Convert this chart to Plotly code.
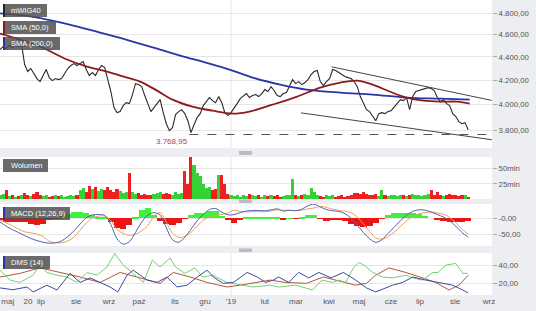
import plotly.graph_objects as go
import math

W, H = 536, 311

# ---------------- data (x = trading-day index) ----------------
price_idx = list(range(0, 305, 2))
price_close = [4464, 4490, 4473, 4500, 4482, 4500, 4490, 4509, 4333, 4273,
               4298, 4256, 4213, 4188, 4238, 4290, 4221, 4196, 4213, 4205,
               4213, 4256, 4298, 4324, 4341, 4324, 4341, 4358, 4290, 4238,
               4264, 4238, 4290, 4324, 4307, 4205, 4106, 3976, 3937, 3945,
               3992, 4016, 4008, 4081, 4171, 4163, 4146, 4073, 4008, 3945,
               3976, 4008, 4040, 3937, 3851, 3798, 3821, 3921, 3945, 3960,
               3929, 3874, 3783, 3843, 3898, 3929, 3992, 4024, 4057, 4032,
               4016, 4065, 4016, 3937, 3914, 3937, 3968, 4008, 4048, 4065,
               4089, 4057, 4073, 4081, 4065, 4089, 4122, 4106, 4146, 4114,
               4073, 4065, 4089, 4098, 4155, 4205, 4171, 4188, 4163, 4180,
               4205, 4247, 4273, 4281, 4188, 4155, 4188, 4213, 4290, 4281,
               4264, 4247, 4230, 4221, 4213, 4188, 4146, 4065, 4008, 3960,
               3945, 3914, 3874, 3929, 3937, 3929, 3945, 3952, 3984, 4008,
               4040, 4032, 4057, 3960, 4065, 4106, 4114, 4122, 4130, 4138,
               4130, 4114, 4057, 4024, 4040, 4008, 3992, 3929, 3906, 3867,
               3851, 3859, 3805]

volume_mln = [6, 8, 15, 5, 6, 4, 5, 7, 10, 6, 5, 9, 11, 7, 5, 6, 4, 5, 7, 5,
              6, 4, 5, 6, 5, 7, 14, 18, 12, 22, 16, 20, 13, 17, 15, 19, 14, 12, 16, 13,
              10, 11, 42, 12, 9, 10, 7, 8, 6, 7, 9, 10, 11, 8, 10, 9, 7, 12, 8, 10,
              46, 25, 69, 56, 42, 38, 25, 18, 20, 14, 17, 39, 39, 25, 9, 6, 5, 7, 4, 6,
              5, 8, 6, 5, 7, 4, 6, 5, 7, 5, 6, 4, 5, 7, 6, 33, 7, 5, 6, 8,
              7, 18, 12, 6, 5, 4, 6, 5, 7, 4, 5, 6, 4, 5, 7, 10, 10, 9, 11, 8,
              7, 6, 8, 5, 14, 6, 5, 7, 6, 5, 6, 7, 5, 6, 8, 6, 7, 5, 6, 8,
              14, 6, 12, 7, 5, 6, 8, 7, 6, 5, 7, 6, 4]

sma50_idx = [0, 13, 26, 43.5, 56.5, 69.5, 82.5, 91, 102, 112, 125, 138, 151,
             162, 177, 193, 208, 221, 232, 242, 253, 264, 275, 286, 297, 305]
sma50_val = [4609, 4554, 4491, 4376, 4315, 4272, 4221, 4188, 4113, 4040, 3984,
             3952, 3929, 3945, 4000, 4065, 4138, 4180, 4196, 4163, 4106, 4057,
             4032, 4024, 4024, 4008]

sma200_idx = [0, 19.5, 36, 52, 65, 84, 104, 117, 136, 151, 164, 182, 199, 221,
              242, 264, 286, 305]
sma200_val = [4797, 4768, 4721, 4665, 4618, 4545, 4464, 4411, 4341, 4281, 4222,
              4163, 4122, 4097, 4081, 4057, 4048, 4040]

min_low = 3768.95
min_low_idx = 111.7
min_low_text = "3.768,95"

trend_up_idx = [215.4, 319.3]
trend_up_val = [4313, 4034]
trend_dn_idx = [195.5, 319.3]
trend_dn_val = [3935, 3730]

macd_idx = list(range(0, 305, 4))
macd_val = [-12, -25, -36, -45, -55, -64, -71, -76, -79, -78, -72, -58, -40, -18, 2, 11,
            12, 9, -20, -65, -82, -74, -45, -12, 10, 18, 10, -30, -68, -76, -60, -35,
            -8, 12, 28, 31, 20, 11, 12, 18, 23, 25, 25, 24, 27, 30, 23, 26, 24, 29,
            40, 45, 36, 28, 24, 22, 15, 0, -22, -45, -65, -76, -68, -48, -28, -8,
            10, 22, 27, 26, 20, 12, 4, -8, -25, -45, -60]
signal_val = [-6, -14, -24, -34, -43, -46, -50, -58, -73, -77, -78, -72, -60, -38, -15, 1,
              7, 7, -8, -35, -48, -54, -50, -40, -23, 6, 18, -12, -47, -60, -58, -45,
              -25, -6, 4, 9, 12, 17, 26, 22, 21, 21, 21, 21, 23, 27, 26, 25, 25, 26,
              30, 33, 38, 35, 29, 25, 23, 18, 4, -18, -41, -62, -66, -58, -44, -26,
              -8, 6, 14, 18, 20, 17, 13, 3, -14, -34, -50]
hist_val = [-6, -11, -12, -11, -12, -18, -21, -18, -6, -1, 6, 14, 20, 20, 17, 10,
            5, 2, -12, -30, -34, -20, 5, 28, 33, 12, -8, -18, -21, -16, -2, 10,
            17, 18, 24, 22, 8, -6, -14, -4, 2, 4, 4, 3, 4, 3, -3, 1, -1, 3,
            10, 12, -2, -7, -5, -3, -8, -18, -26, -27, -24, -14, -2, 10, 16, 18,
            18, 16, 13, 8, 0, -5, -9, -11, -11, -11, -10]

dip_idx = [0, 6.5, 13, 21.5, 26, 30.5, 37, 43.5, 50, 56.5, 63, 69.5, 74.5, 80, 86.5,
           93, 99, 104, 110.5, 114, 120, 126.5, 131.5, 138, 147.5, 156, 164, 175.5,
           181, 192, 203, 209, 216, 220, 224.5, 229.5, 233, 236.5, 242, 248.5, 255,
           263.5, 268, 274.5, 281, 284.5, 289.5, 296, 300.5, 304]
dip_val = [34.5, 23.6, 21, 29, 40, 32, 29, 27, 21, 32, 29, 38, 53, 40, 31, 21, 45.5,
           38, 48, 38, 31, 37, 27, 29, 21, 18, 16, 18, 16, 18, 12.7, 23.6, 21, 23.6,
           21, 37, 43, 40, 32, 27, 26, 29, 26, 23.6, 32, 32, 40, 42, 31, 31]
dim_idx = [0, 8.5, 17.5, 21.5, 30.5, 37, 45.5, 52, 58.5, 65, 71.5, 76.5, 82.5, 86.5,
           91, 95.5, 102, 108.5, 115, 121.5, 128, 134.5, 138.5, 145, 151.5, 160.5,
           167, 172.5, 177.5, 181, 187.5, 194, 200.5, 207, 215, 223, 231, 238, 244,
           247.5, 255, 261.5, 268, 276.5, 285, 294, 300.5, 304]
dim_val = [15, 13, 16, 10.6, 18, 12.7, 31, 21, 26, 21, 16, 10.6, 29, 34.5, 29, 23.6,
           21, 27, 16, 18, 27, 34.5, 27, 20, 21, 32, 27, 21, 23.6, 27, 21, 32, 26,
           32, 26, 32, 23.6, 15, 10.6, 12.7, 18, 21, 27, 23.6, 21, 18, 12.7, 9.4]
adx_idx = [0, 13, 26, 39, 52, 65, 78, 91, 104, 112.5, 123.5, 134.5, 147.5, 156,
           167, 175.5, 185.5, 199, 210, 223, 231, 238, 244, 252.5, 263.5, 274.5,
           283, 291.5, 298, 304]
adx_val = [27, 31, 37, 32, 27, 21, 32, 26, 20, 32, 27, 21, 16, 18, 21, 23.6, 21,
           20, 27, 21, 18, 20, 29, 37, 32, 26, 21, 12.7, 18, 29, 40][:30]

tick_idx = [5.0, 18.2, 26.6, 49.4, 70.8, 90.3, 113.6, 133.1, 150, 172, 192.2,
            213.6, 233.1, 253.9, 272.7, 295.5, 317.5]
tick_text = ["maj", "20", "lip", "sie", "wrz", "paź", "lis", "gru", "'19", "lut",
             "mar", "kwi", "maj", "cze", "lip", "sie", "wrz"]
year_idx = 150

price_ticks = [3800, 4000, 4200, 4400, 4600, 4800]
price_ticktext = ["3.800,00", "4.000,00", "4.200,00", "4.400,00", "4.600,00", "4.800,00"]
vol_ticks = [25, 50]
vol_ticktext = ["25mln", "50mln"]
macd_ticks = [-50, 0]
macd_ticktext = ["-50,00", "-0,00"]
dms_ticks = [20, 40]
dms_ticktext = ["20,00", "40,00"]

# ---------------- styling ----------------
FONT = "Liberation Sans"
GREEN = "#35d235"
RED = "#ee2020"
BG = "#eceef1"
GRID = "#e6e6e6"
XR = [0, 319.5]
XDOM = [0, 492 / W]


def py(y):
    return 1 - y / H


def px(x):
    return x / W


fig = go.Figure()

# price
fig.add_trace(go.Scatter(x=price_idx, y=price_close, mode="lines",
                         line=dict(color="#2a2a2a", width=1.1), xaxis="x", yaxis="y"))
fig.add_trace(go.Scatter(x=sma200_idx, y=sma200_val, mode="lines", line_shape="spline",
                         line=dict(color="#2b36a6", width=1.8), xaxis="x", yaxis="y"))
fig.add_trace(go.Scatter(x=sma50_idx, y=sma50_val, mode="lines", line_shape="spline",
                         line=dict(color="#8e1b1b", width=1.8), xaxis="x", yaxis="y"))
fig.add_trace(go.Scatter(x=trend_up_idx, y=trend_up_val, mode="lines",
                         line=dict(color="#444", width=1), xaxis="x", yaxis="y"))
fig.add_trace(go.Scatter(x=trend_dn_idx, y=trend_dn_val, mode="lines",
                         line=dict(color="#444", width=1), xaxis="x", yaxis="y"))
fig.add_trace(go.Scatter(x=[123, XR[1]], y=[min_low, min_low], mode="lines",
                         line=dict(color="#555", width=1, dash="dash"), xaxis="x", yaxis="y"))

# volume
vol_colors = [GREEN if i == 0 or price_close[i] >= price_close[i - 1] else RED
              for i in range(len(price_close))]
fig.add_trace(go.Bar(x=price_idx, y=[v * 1e6 for v in volume_mln], width=2,
                     marker=dict(color=vol_colors, line=dict(width=0)),
                     xaxis="x2", yaxis="y2"))

# macd
fig.add_trace(go.Bar(x=macd_idx, y=hist_val, width=4,
                     marker=dict(color=["#3ff03f" if v >= 0 else "#ee1414" for v in hist_val],
                                 line=dict(width=0)),
                     xaxis="x3", yaxis="y3"))
fig.add_trace(go.Scatter(x=macd_idx, y=signal_val, mode="lines", line_shape="spline",
                         line=dict(color="#e8a35e", width=1), xaxis="x3", yaxis="y3"))
fig.add_trace(go.Scatter(x=macd_idx, y=macd_val, mode="lines", line_shape="spline",
                         line=dict(color="#5560b0", width=1), xaxis="x3", yaxis="y3"))

# dms
fig.add_trace(go.Scatter(x=adx_idx, y=adx_val, mode="lines",
                         line=dict(color="#b0583a", width=1), xaxis="x4", yaxis="y4"))
fig.add_trace(go.Scatter(x=dip_idx, y=dip_val, mode="lines",
                         line=dict(color="#6fd36f", width=1), xaxis="x4", yaxis="y4"))
fig.add_trace(go.Scatter(x=dim_idx, y=dim_val, mode="lines",
                         line=dict(color="#3b4a9c", width=1), xaxis="x4", yaxis="y4"))

tickfont = dict(family=FONT, size=7.8, color="#555")
yax_common = dict(side="right", showgrid=True, gridcolor=GRID, zeroline=False,
                  ticks="outside", ticklen=4, tickcolor="#aaa", tickfont=tickfont,
                  showline=False, automargin=False, fixedrange=True)
xax_common = dict(range=XR, domain=XDOM, showgrid=False, zeroline=False,
                  showticklabels=False, ticks="", automargin=False, showline=False)

fig.update_layout(
    width=W, height=H, margin=dict(l=0, r=0, t=0, b=0),
    paper_bgcolor=BG, plot_bgcolor="white", showlegend=False, bargap=0,
    xaxis=dict(**xax_common, anchor="y"),
    xaxis2=dict(**xax_common, anchor="y2", matches="x"),
    xaxis3=dict(**xax_common, anchor="y3", matches="x"),
    xaxis4=dict(range=XR, domain=XDOM, showgrid=False, zeroline=False, anchor="y4",
                matches="x", tickmode="array", tickvals=tick_idx, ticktext=tick_text,
                ticks="", tickfont=dict(family=FONT, size=8, color="#555"),
                automargin=False, showline=False),
    yaxis=dict(**yax_common, type="log", domain=[py(148), 1],
               range=[math.log10(3669), math.log10(4927)],
               tickmode="array", tickvals=price_ticks, ticktext=price_ticktext),
    yaxis2=dict(**yax_common, domain=[py(199), py(157)], range=[0, 69e6],
                tickmode="array", tickvals=[v * 1e6 for v in vol_ticks], ticktext=vol_ticktext),
    yaxis3=dict(**yax_common, domain=[py(246), py(204)], range=[-88, 45.5],
                tickmode="array", tickvals=macd_ticks, ticktext=macd_ticktext),
    yaxis4=dict(**yax_common, domain=[py(295), py(253)], range=[7.2, 53.4],
                tickmode="array", tickvals=dms_ticks, ticktext=dms_ticktext),
)

shapes = []
# year separator lines
for k in ["", "2", "3", "4"]:
    shapes.append(dict(type="line", xref="x" + k, yref="y" + k + " domain",
                       x0=year_idx, x1=year_idx, y0=0, y1=1,
                       line=dict(color=GRID, width=1), layer="below"))
# panel handles
for (y0, y1) in [(151, 155), (199.5, 203), (248.5, 252)]:
    shapes.append(dict(type="rect", xref="paper", yref="paper",
                       x0=px(239), x1=px(252), y0=py(y1), y1=py(y0),
                       fillcolor="#b9bdc3", line=dict(width=0)))

annotations = []
labels = [("mWIG40", 3, 47, 4, 17, "#1d2d1d"),
          ("SMA (50,0)", 3, 56, 21, 34, "#8e1b1b"),
          ("SMA (200,0)", 3, 60, 37, 50, "#2b36a6"),
          ("Wolumen", 3, 48, 159, 172, None),
          ("MACD (12,26,9)", 3, 70, 207, 220, "#2b36a6"),
          ("DMS (14)", 3, 50, 256, 269, "#2b36a6")]
for text, x0, x1, y0, y1, bar in labels:
    shapes.append(dict(type="rect", xref="paper", yref="paper",
                       x0=px(x0), x1=px(x1), y0=py(y1), y1=py(y0),
                       fillcolor="rgba(80,80,80,0.85)", line=dict(width=0)))
    if bar:
        shapes.append(dict(type="rect", xref="paper", yref="paper",
                           x0=px(x0), x1=px(x0 + 2), y0=py(y1), y1=py(y0),
                           fillcolor=bar, line=dict(width=0)))
    annotations.append(dict(text=text, xref="paper", yref="paper",
                            x=px(x0 + 6), y=py((y0 + y1) / 2), xanchor="left",
                            yanchor="middle", showarrow=False,
                            font=dict(family=FONT, size=7.5, color="white")))

annotations.append(dict(text=min_low_text, xref="x", yref="y", x=min_low_idx,
                        y=math.log10(min_low), xanchor="center", yanchor="middle",
                        yshift=-7, showarrow=False,
                        font=dict(family=FONT, size=8, color="#b5443f")))

fig.update_layout(shapes=shapes, annotations=annotations)
fig.write_html("out.html")
